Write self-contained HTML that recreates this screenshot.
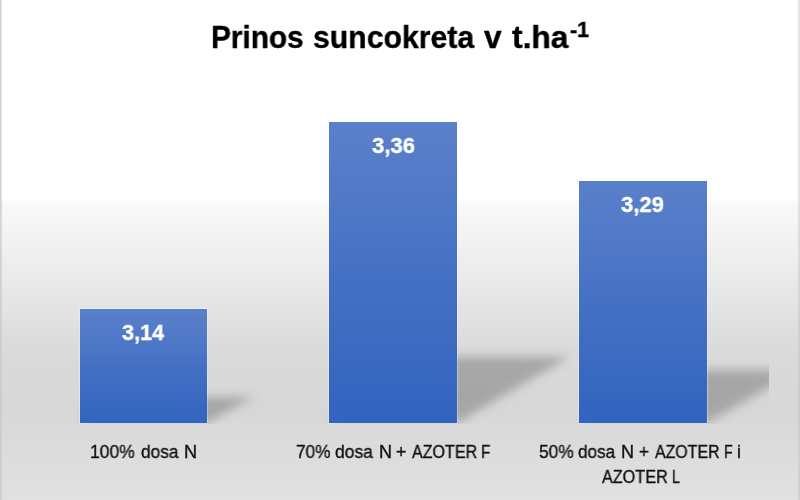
<!DOCTYPE html>
<html><head><meta charset="utf-8">
<style>
html,body{margin:0;padding:0;}
body{width:800px;height:500px;position:relative;overflow:hidden;
 background:linear-gradient(to bottom,#ffffff 0px,#ffffff 200px,#f9f9f9 202px,#eeeeee 260px,#dadada 350px,#d7d7d7 410px,#dedede 470px,#e1e1e1 500px);
 font-family:"Liberation Sans",sans-serif;}
.edge{position:absolute;top:0;bottom:0;width:3px;}
.t{position:absolute;white-space:nowrap;line-height:1;transform-origin:0 0;will-change:transform;}
.title{font-weight:bold;font-size:30px;color:#000;-webkit-text-stroke:0.4px #000;}
.bar{position:absolute;background:linear-gradient(to bottom,#5b80cb 0%,#4571c4 50%,#3263be 100%);box-shadow:0 0 0 1px rgba(255,255,255,0.3);}
.val{font-weight:bold;font-size:20px;color:#fff;-webkit-text-stroke:0.35px #fff;}
.lab{font-size:16px;color:#111;-webkit-text-stroke:0.35px #111;}
svg{position:absolute;left:0;top:0;}
</style></head><body>
<div class="edge" style="left:0;background:linear-gradient(to right,rgba(200,200,200,0.8) 0px,rgba(200,200,200,0.75) 1px,rgba(200,200,200,0) 2.6px)"></div>
<div class="edge" style="right:0;background:linear-gradient(to left,rgba(190,190,190,0.55) 0px,rgba(190,190,190,0.4) 1px,rgba(190,190,190,0) 3px)"></div>
<svg width="800" height="500">
 <defs>
  <filter id="bl" x="-50%" y="-50%" width="200%" height="200%"><feGaussianBlur stdDeviation="5"/></filter>
  <clipPath id="cp"><rect x="0" y="0" width="769" height="423.5"/></clipPath>
 </defs>
 <g clip-path="url(#cp)" fill="#999999" opacity="0.78">
  <polygon filter="url(#bl)" points="126,397 253,397 207,423 80,423"/>
  <polygon filter="url(#bl)" points="441,357 569,357 457,423 329,423"/>
  <polygon filter="url(#bl)" points="672,370 800,370 707,423 579,423"/>
 </g>
</svg>
<div class="bar" style="left:80px;top:309px;width:127px;height:114px"></div>
<div class="bar" style="left:329px;top:122px;width:128px;height:301px"></div>
<div class="bar" style="left:579px;top:181px;width:128px;height:242px"></div>

<div class="t title" style="left:210.55px;top:20.66px;font-size:32px;transform:scaleX(0.9304)">Prinos</div>
<div class="t title" style="left:312.71px;top:20.66px;font-size:32px;transform:scaleX(0.9438)">suncokreta</div>
<div class="t title" style="left:484.40px;top:20.66px;font-size:32px;transform:scaleX(0.9857)">v</div>
<div class="t title" style="left:511.85px;top:20.66px;font-size:32px;transform:scaleX(0.9921)">t.ha</div>
<div class="t title" style="left:569.52px;top:19.17px;font-size:22px;transform:scaleX(0.9778)">-1</div>

<div class="t val" style="left:121.77px;top:321.75px;font-size:22.5px;transform:scaleX(0.9618)">3,14</div>
<div class="t val" style="left:371.76px;top:134.95px;font-size:22.5px;transform:scaleX(0.9824)">3,36</div>
<div class="t val" style="left:621.31px;top:194.35px;font-size:22.5px;transform:scaleX(0.9812)">3,29</div>

<div class="t lab" style="left:90.47px;top:444.01px;font-size:17.7px;transform:scaleX(0.9873)">100%</div>
<div class="t lab" style="left:140.57px;top:444.01px;font-size:17.7px;transform:scaleX(0.9774)">dosa</div>
<div class="t lab" style="left:183.66px;top:444.01px;font-size:17.7px;transform:scaleX(1.0255)">N</div>
<div class="t lab" style="left:296.02px;top:444.01px;font-size:17.7px;transform:scaleX(0.9735)">70%</div>
<div class="t lab" style="left:335.41px;top:444.01px;font-size:17.7px;transform:scaleX(0.9867)">dosa</div>
<div class="t lab" style="left:378.57px;top:444.01px;font-size:17.7px;transform:scaleX(1.0204)">N</div>
<div class="t lab" style="left:396.30px;top:444.01px;font-size:17.7px;transform:scaleX(1.0000)">+</div>
<div class="t lab" style="left:411.61px;top:444.01px;font-size:17.7px;transform:scaleX(0.9082)">AZOTER</div>
<div class="t lab" style="left:480.61px;top:444.01px;font-size:17.7px;transform:scaleX(0.8605)">F</div>
<div class="t lab" style="left:538.51px;top:444.01px;font-size:17.7px;transform:scaleX(0.9795)">50%</div>
<div class="t lab" style="left:578.12px;top:444.01px;font-size:17.7px;transform:scaleX(0.9681)">dosa</div>
<div class="t lab" style="left:621.27px;top:444.01px;font-size:17.7px;transform:scaleX(1.0204)">N</div>
<div class="t lab" style="left:639.23px;top:444.01px;font-size:17.7px;transform:scaleX(0.9651)">+</div>
<div class="t lab" style="left:654.51px;top:444.01px;font-size:17.7px;transform:scaleX(0.8997)">AZOTER</div>
<div class="t lab" style="left:724.20px;top:444.01px;font-size:17.7px;transform:scaleX(0.8023)">F</div>
<div class="t lab" style="left:737.40px;top:444.01px;font-size:17.7px;transform:scaleX(1)">i</div>
<div class="t lab" style="left:601.51px;top:469.01px;font-size:17.7px;transform:scaleX(0.9167)">AZOTER</div>
<div class="t lab" style="left:671.51px;top:469.01px;font-size:17.7px;transform:scaleX(0.7949)">L</div>
</body></html>
